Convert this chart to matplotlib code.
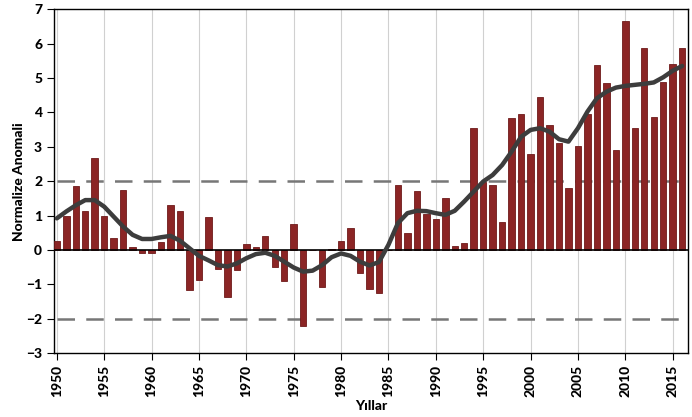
import numpy as np
import matplotlib.pyplot as plt

years = np.arange(1950, 2017)

anomaly = [
    0.26, 0.99, 1.86, 1.13, 2.67, 0.99, 0.35, 1.74, 0.09, -0.09,
    -0.09, 0.23, 1.31, 1.13, -1.16, -0.87, 0.96, -0.56, -1.36, -0.58,
    0.17, 0.09, 0.41, -0.48, -0.89, 0.75, -2.20, 0.01, -1.07, 0.03,
    0.27, 0.63, -0.68, -1.14, -1.24, 0.01, 1.89, 0.48, 1.72, 1.04,
    0.90, 1.51, 0.12, 0.19, 3.55, 1.97, 1.89, 0.81, 3.84, 3.95,
    2.79, 4.46, 3.62, 3.12, 1.79, 3.02, 3.94, 5.37, 4.84, 2.90,
    6.65, 3.55, 5.88, 3.86, 4.88, 5.40, 5.88,
]

smooth = [
    0.92, 1.12, 1.30, 1.45, 1.45, 1.26, 0.97, 0.68, 0.44, 0.32,
    0.32, 0.37, 0.41, 0.27, 0.05, -0.17, -0.30, -0.44, -0.48, -0.39,
    -0.24, -0.12, -0.08, -0.17, -0.34, -0.51, -0.63, -0.60, -0.44, -0.21,
    -0.10, -0.17, -0.34, -0.45, -0.35, 0.15, 0.78, 1.07, 1.14, 1.13,
    1.07, 1.02, 1.14, 1.41, 1.70, 1.99, 2.18, 2.47, 2.86, 3.29,
    3.49, 3.54, 3.44, 3.22, 3.15, 3.54, 4.02, 4.41, 4.60, 4.72,
    4.77, 4.80, 4.83, 4.87, 5.02, 5.21, 5.35,
]

limit = 2.0

plt.rcParams['font.family'] = ['Lato', 'DejaVu Sans']
plt.rcParams['font.weight'] = 900

fig = plt.figure(figsize=(6.92, 4.17), dpi=100)
ax = fig.add_axes([0.078, 0.153, 0.916, 0.825])

ax.bar(years, anomaly, width=0.68, color='#8b2525', edgecolor='#6e1a1a',
       linewidth=0.6, zorder=3)
ax.axhline(0, color='black', linewidth=1.2, zorder=4)
ax.plot(years, [limit] * len(years), color='#777777', linewidth=1.8,
        dashes=(7, 4.5), zorder=2)
ax.plot(years, [-limit] * len(years), color='#777777', linewidth=1.8,
        dashes=(7, 4.5), zorder=2)
ax.plot(years, smooth, color='#3d3d3d', linewidth=3.2,
        solid_capstyle='round', zorder=5)

ax.set_xlim(1949.7, 2016.6)
ax.set_ylim(-3, 7)
ax.set_xticks(np.arange(1950, 2016, 5))
ax.set_yticks(np.arange(-3, 8, 1))
ax.tick_params(axis='x', rotation=90, labelsize=10, length=5, direction='out')
ax.tick_params(axis='y', labelsize=10, length=5, direction='out')
ax.grid(axis='x', color='#d0d0d0', linewidth=0.8, zorder=0)

ax.set_xlabel('Yıllar', fontsize=10, fontweight=900)
ax.set_ylabel('Normalize Anomali', fontsize=10, fontweight=900)
ax.xaxis.set_label_coords(0.5, -0.135)
ax.yaxis.set_label_coords(-0.046, 0.5)

for s in ax.spines.values():
    s.set_linewidth(1.0)

fig.savefig('out.png', dpi=100)
